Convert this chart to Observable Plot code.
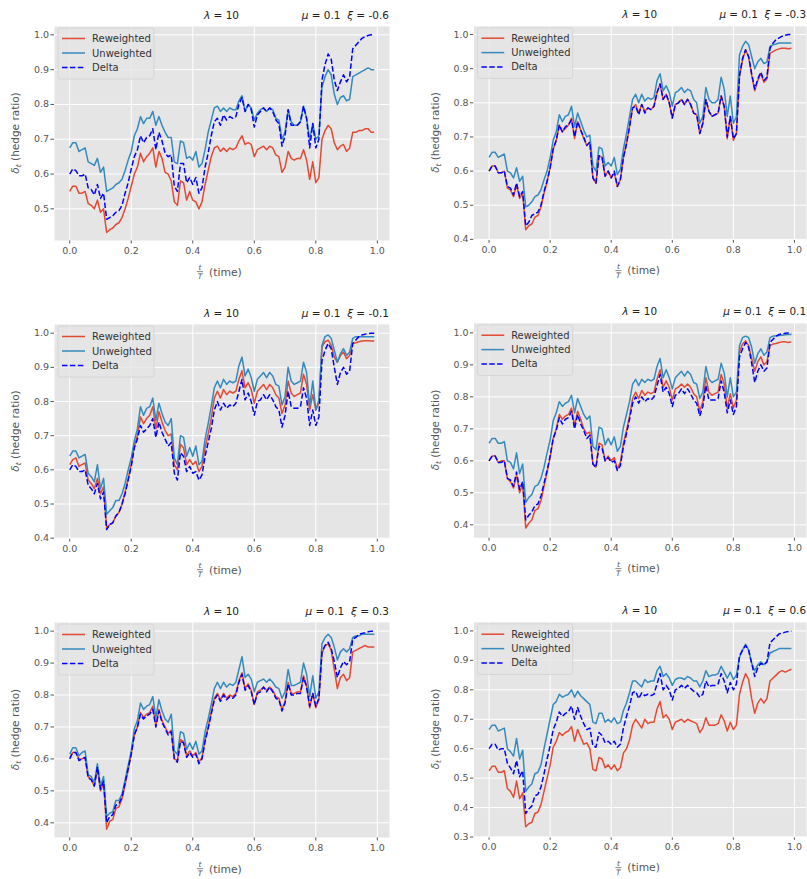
<!DOCTYPE html>
<html><head><meta charset="utf-8">
<script src="https://cdn.jsdelivr.net/npm/d3@7"></script>
<script src="https://cdn.jsdelivr.net/npm/@observablehq/plot@0.6"></script>
<style>
html,body{margin:0;padding:0;background:#fff;}
#fig{position:relative;width:807px;height:879px;overflow:hidden;font-family:"DejaVu Sans",sans-serif;}
#fig > div{position:absolute;}
</style></head><body><div id="fig"></div>
<script>
// ---------- DATA ----------
const times = d3.range(100).map(i => i / 100);
const xTicks = [0, 0.2, 0.4, 0.6, 0.8, 1.0];
const lambdaLabel = "10";
const muLabel = "0.1";
const xiLabels = ["-0.6", "-0.3", "-0.1", "0.1", "0.3", "0.6"];
const seriesNames = ["Reweighted", "Unweighted", "Delta"];

// xi = -0.6
const re_m06 = [
0.550,0.565,0.565,0.545,0.545,0.550,0.515,0.510,0.500,0.525,
0.490,0.500,0.432,0.440,0.445,0.455,0.460,0.475,0.500,0.530,
0.565,0.600,0.620,0.660,0.635,0.650,0.660,0.675,0.620,0.665,
0.645,0.605,0.600,0.580,0.520,0.510,0.580,0.575,0.525,0.550,
0.525,0.520,0.500,0.520,0.570,0.610,0.650,0.675,0.680,0.665,
0.675,0.665,0.675,0.670,0.675,0.695,0.710,0.685,0.690,0.685,
0.650,0.670,0.675,0.680,0.670,0.680,0.675,0.655,0.650,0.605,
0.620,0.665,0.645,0.640,0.645,0.645,0.670,0.640,0.585,0.635,
0.575,0.590,0.700,0.725,0.740,0.730,0.690,0.670,0.680,0.685,
0.665,0.675,0.720,0.720,0.725,0.725,0.730,0.730,0.720,0.720];
const un_m06 = [
0.675,0.690,0.690,0.665,0.670,0.675,0.635,0.630,0.625,0.645,
0.605,0.620,0.550,0.555,0.560,0.570,0.575,0.585,0.610,0.640,
0.665,0.710,0.730,0.765,0.745,0.760,0.760,0.780,0.740,0.765,
0.740,0.720,0.705,0.705,0.635,0.630,0.695,0.690,0.645,0.650,
0.640,0.665,0.620,0.630,0.670,0.720,0.755,0.790,0.795,0.780,
0.790,0.780,0.790,0.785,0.785,0.810,0.825,0.780,0.800,0.790,
0.755,0.775,0.785,0.790,0.780,0.790,0.785,0.760,0.755,0.700,
0.720,0.785,0.750,0.740,0.740,0.750,0.795,0.760,0.700,0.745,
0.700,0.710,0.850,0.880,0.900,0.885,0.830,0.800,0.820,0.825,
0.810,0.815,0.880,0.885,0.890,0.895,0.900,0.905,0.900,0.900];
const de_m06 = [
0.600,0.615,0.610,0.595,0.595,0.600,0.560,0.555,0.540,0.570,
0.530,0.545,0.470,0.475,0.480,0.490,0.495,0.510,0.545,0.575,
0.615,0.650,0.670,0.710,0.690,0.705,0.710,0.730,0.670,0.720,
0.695,0.660,0.650,0.655,0.565,0.550,0.630,0.630,0.575,0.590,
0.570,0.590,0.545,0.560,0.620,0.660,0.710,0.750,0.760,0.740,
0.770,0.755,0.765,0.760,0.765,0.800,0.820,0.780,0.800,0.785,
0.735,0.770,0.780,0.790,0.780,0.790,0.780,0.755,0.745,0.680,
0.710,0.785,0.740,0.740,0.740,0.750,0.795,0.760,0.675,0.745,
0.675,0.700,0.870,0.915,0.945,0.930,0.870,0.840,0.865,0.885,
0.865,0.880,0.960,0.970,0.980,0.990,0.995,0.998,1.000,1.000];

// xi = -0.3
const re_m03 = [
0.600,0.615,0.615,0.595,0.595,0.600,0.550,0.545,0.525,0.560,
0.520,0.535,0.428,0.440,0.445,0.465,0.470,0.495,0.535,0.570,
0.610,0.665,0.690,0.735,0.715,0.725,0.735,0.755,0.695,0.745,
0.720,0.695,0.675,0.685,0.580,0.565,0.645,0.640,0.585,0.600,
0.580,0.595,0.555,0.575,0.640,0.680,0.730,0.785,0.795,0.770,
0.795,0.775,0.785,0.780,0.790,0.830,0.855,0.810,0.825,0.800,
0.755,0.795,0.800,0.810,0.795,0.810,0.795,0.770,0.765,0.710,
0.740,0.810,0.775,0.760,0.765,0.770,0.820,0.790,0.695,0.760,
0.690,0.710,0.875,0.925,0.955,0.935,0.880,0.835,0.865,0.885,
0.860,0.870,0.945,0.950,0.955,0.958,0.960,0.960,0.958,0.960];
const un_m03 = [
0.640,0.655,0.655,0.640,0.645,0.650,0.600,0.595,0.580,0.610,
0.570,0.585,0.495,0.500,0.510,0.525,0.530,0.545,0.575,0.600,
0.640,0.690,0.715,0.765,0.745,0.760,0.765,0.790,0.730,0.770,
0.745,0.720,0.700,0.705,0.615,0.600,0.670,0.665,0.615,0.625,
0.615,0.640,0.590,0.605,0.665,0.710,0.760,0.810,0.825,0.800,
0.825,0.805,0.815,0.810,0.815,0.865,0.885,0.835,0.850,0.830,
0.790,0.830,0.835,0.845,0.830,0.840,0.835,0.810,0.800,0.740,
0.760,0.845,0.810,0.800,0.800,0.810,0.875,0.840,0.760,0.820,
0.740,0.760,0.940,0.965,0.980,0.970,0.935,0.900,0.920,0.930,
0.915,0.920,0.965,0.970,0.972,0.975,0.975,0.975,0.975,0.975];
const de_m03 = [
0.600,0.615,0.615,0.595,0.595,0.600,0.555,0.550,0.530,0.565,
0.525,0.540,0.440,0.450,0.470,0.475,0.480,0.500,0.540,0.570,
0.610,0.665,0.690,0.735,0.715,0.730,0.735,0.750,0.700,0.745,
0.720,0.700,0.675,0.685,0.580,0.565,0.645,0.640,0.585,0.600,
0.580,0.600,0.555,0.575,0.640,0.680,0.730,0.785,0.790,0.765,
0.795,0.770,0.785,0.780,0.790,0.830,0.855,0.810,0.825,0.800,
0.755,0.795,0.800,0.810,0.795,0.810,0.795,0.770,0.765,0.710,
0.740,0.810,0.775,0.760,0.765,0.770,0.820,0.790,0.700,0.760,
0.695,0.710,0.880,0.930,0.955,0.935,0.885,0.840,0.870,0.890,
0.865,0.875,0.960,0.975,0.985,0.990,0.995,0.998,1.000,1.000];

// xi = -0.1
const re_m01 = [
0.615,0.630,0.635,0.610,0.615,0.620,0.570,0.560,0.545,0.575,
0.530,0.550,0.430,0.440,0.445,0.465,0.475,0.500,0.535,0.575,
0.615,0.670,0.700,0.755,0.735,0.750,0.760,0.785,0.720,0.770,
0.740,0.715,0.700,0.705,0.615,0.600,0.675,0.665,0.615,0.630,
0.615,0.625,0.595,0.610,0.665,0.705,0.750,0.810,0.830,0.810,
0.835,0.820,0.830,0.825,0.830,0.865,0.890,0.840,0.855,0.835,
0.795,0.830,0.840,0.850,0.835,0.850,0.840,0.820,0.810,0.765,
0.790,0.860,0.825,0.815,0.820,0.825,0.880,0.850,0.775,0.820,
0.775,0.795,0.960,0.975,0.980,0.965,0.930,0.915,0.935,0.945,
0.925,0.935,0.970,0.972,0.975,0.977,0.978,0.978,0.977,0.977];
const un_m01 = [
0.640,0.655,0.655,0.635,0.640,0.645,0.590,0.580,0.565,0.615,
0.545,0.575,0.470,0.480,0.490,0.510,0.510,0.530,0.560,0.600,
0.635,0.685,0.720,0.785,0.760,0.780,0.785,0.810,0.745,0.795,
0.765,0.740,0.730,0.750,0.635,0.615,0.700,0.695,0.640,0.665,
0.640,0.670,0.615,0.625,0.690,0.735,0.785,0.840,0.860,0.840,
0.865,0.850,0.860,0.855,0.860,0.905,0.930,0.875,0.895,0.870,
0.830,0.865,0.875,0.885,0.870,0.885,0.875,0.850,0.845,0.790,
0.815,0.900,0.860,0.850,0.855,0.860,0.915,0.885,0.785,0.860,
0.775,0.805,0.965,0.990,0.995,0.985,0.950,0.915,0.940,0.955,
0.935,0.945,0.985,0.990,0.990,0.990,0.990,0.990,0.990,0.990];
const de_m01 = [
0.600,0.615,0.610,0.595,0.595,0.600,0.555,0.545,0.530,0.560,
0.515,0.535,0.425,0.440,0.445,0.465,0.475,0.500,0.530,0.570,
0.610,0.665,0.690,0.730,0.710,0.720,0.730,0.750,0.695,0.740,
0.710,0.690,0.670,0.680,0.590,0.570,0.650,0.640,0.595,0.610,
0.590,0.595,0.570,0.585,0.640,0.680,0.720,0.775,0.800,0.775,
0.795,0.780,0.790,0.785,0.795,0.830,0.865,0.805,0.825,0.800,
0.760,0.800,0.805,0.820,0.805,0.820,0.805,0.785,0.775,0.725,
0.760,0.830,0.785,0.780,0.780,0.785,0.840,0.810,0.730,0.775,
0.730,0.755,0.920,0.950,0.970,0.955,0.900,0.850,0.885,0.900,
0.880,0.890,0.970,0.980,0.990,0.995,0.997,0.999,1.000,1.000];

// xi = 0.1
const re_p01 = [
0.600,0.615,0.615,0.595,0.600,0.600,0.545,0.535,0.515,0.555,
0.500,0.530,0.390,0.405,0.415,0.445,0.450,0.475,0.520,0.565,
0.610,0.670,0.700,0.745,0.730,0.740,0.745,0.765,0.710,0.755,
0.730,0.700,0.685,0.690,0.590,0.580,0.655,0.650,0.600,0.615,
0.600,0.610,0.575,0.595,0.655,0.695,0.740,0.795,0.815,0.795,
0.820,0.805,0.815,0.810,0.815,0.855,0.885,0.830,0.850,0.830,
0.790,0.825,0.830,0.840,0.830,0.840,0.830,0.810,0.800,0.755,
0.785,0.860,0.815,0.805,0.810,0.815,0.870,0.840,0.765,0.810,
0.765,0.790,0.940,0.965,0.975,0.960,0.920,0.880,0.910,0.925,
0.900,0.910,0.960,0.965,0.967,0.970,0.972,0.972,0.970,0.972];
const un_p01 = [
0.655,0.670,0.670,0.655,0.655,0.660,0.600,0.595,0.575,0.625,
0.560,0.590,0.470,0.485,0.495,0.520,0.525,0.545,0.580,0.625,
0.665,0.725,0.750,0.785,0.770,0.780,0.785,0.805,0.750,0.795,
0.770,0.745,0.730,0.740,0.645,0.635,0.705,0.700,0.650,0.670,
0.650,0.675,0.630,0.645,0.705,0.745,0.785,0.840,0.855,0.835,
0.855,0.845,0.855,0.850,0.855,0.895,0.920,0.860,0.885,0.860,
0.825,0.860,0.870,0.880,0.865,0.880,0.870,0.845,0.840,0.795,
0.815,0.895,0.855,0.845,0.850,0.855,0.905,0.875,0.800,0.860,
0.800,0.815,0.960,0.985,0.990,0.985,0.955,0.905,0.935,0.950,
0.930,0.940,0.985,0.990,0.990,0.992,0.993,0.994,0.995,0.995];
const de_p01 = [
0.600,0.615,0.615,0.595,0.595,0.600,0.545,0.540,0.520,0.565,
0.510,0.535,0.415,0.430,0.440,0.460,0.465,0.490,0.530,0.570,
0.615,0.670,0.695,0.735,0.715,0.730,0.735,0.755,0.700,0.745,
0.715,0.695,0.670,0.680,0.590,0.580,0.645,0.640,0.600,0.610,
0.595,0.600,0.570,0.585,0.645,0.685,0.730,0.780,0.800,0.780,
0.800,0.785,0.795,0.790,0.800,0.835,0.870,0.815,0.830,0.810,
0.770,0.805,0.810,0.825,0.810,0.825,0.810,0.790,0.780,0.740,
0.770,0.835,0.790,0.790,0.790,0.795,0.850,0.815,0.750,0.790,
0.745,0.770,0.925,0.950,0.970,0.955,0.905,0.845,0.880,0.900,
0.880,0.890,0.970,0.980,0.990,0.995,0.997,0.999,1.000,1.000];

// xi = 0.3
const re_p03 = [
0.605,0.620,0.620,0.600,0.600,0.605,0.545,0.535,0.515,0.570,
0.500,0.525,0.380,0.405,0.410,0.445,0.450,0.475,0.520,0.565,
0.615,0.675,0.700,0.745,0.730,0.740,0.745,0.765,0.705,0.755,
0.720,0.700,0.680,0.690,0.600,0.595,0.660,0.655,0.610,0.625,
0.610,0.620,0.590,0.605,0.660,0.700,0.745,0.790,0.805,0.785,
0.805,0.790,0.800,0.795,0.805,0.845,0.870,0.820,0.835,0.815,
0.770,0.810,0.815,0.825,0.815,0.825,0.815,0.795,0.790,0.755,
0.780,0.840,0.805,0.805,0.810,0.810,0.860,0.830,0.760,0.805,
0.760,0.785,0.930,0.955,0.960,0.940,0.880,0.820,0.855,0.865,
0.845,0.855,0.935,0.940,0.945,0.950,0.955,0.950,0.950,0.950];
const un_p03 = [
0.615,0.635,0.635,0.610,0.620,0.625,0.550,0.545,0.525,0.585,
0.515,0.545,0.420,0.430,0.435,0.470,0.470,0.490,0.535,0.580,
0.625,0.695,0.720,0.775,0.755,0.765,0.770,0.795,0.730,0.785,
0.750,0.725,0.715,0.740,0.625,0.615,0.685,0.680,0.630,0.650,
0.630,0.655,0.615,0.625,0.685,0.725,0.770,0.820,0.840,0.820,
0.840,0.825,0.835,0.830,0.840,0.880,0.920,0.855,0.865,0.850,
0.810,0.840,0.845,0.850,0.840,0.850,0.840,0.825,0.820,0.790,
0.810,0.880,0.830,0.830,0.835,0.840,0.900,0.865,0.795,0.860,
0.790,0.810,0.960,0.980,0.990,0.980,0.950,0.910,0.935,0.945,
0.935,0.945,0.980,0.985,0.985,0.990,0.990,0.990,0.990,0.990];
const de_p03 = [
0.600,0.620,0.620,0.595,0.600,0.605,0.540,0.535,0.515,0.575,
0.505,0.530,0.400,0.420,0.425,0.455,0.460,0.480,0.525,0.570,
0.615,0.675,0.700,0.740,0.725,0.735,0.740,0.755,0.700,0.750,
0.715,0.695,0.675,0.685,0.600,0.590,0.655,0.650,0.605,0.620,
0.605,0.615,0.585,0.600,0.655,0.695,0.740,0.785,0.800,0.780,
0.800,0.785,0.795,0.790,0.800,0.840,0.865,0.815,0.830,0.810,
0.770,0.805,0.810,0.825,0.810,0.825,0.810,0.790,0.785,0.750,
0.775,0.835,0.800,0.800,0.805,0.805,0.855,0.825,0.765,0.805,
0.765,0.790,0.935,0.955,0.965,0.945,0.905,0.855,0.885,0.905,
0.895,0.905,0.975,0.980,0.990,0.993,0.995,0.998,1.000,1.000];

// xi = 0.6
const re_p06 = [
0.525,0.540,0.540,0.520,0.520,0.525,0.465,0.455,0.435,0.490,
0.430,0.450,0.335,0.345,0.350,0.380,0.385,0.410,0.455,0.500,
0.545,0.605,0.625,0.655,0.645,0.655,0.660,0.675,0.625,0.665,
0.640,0.615,0.620,0.600,0.530,0.525,0.570,0.565,0.535,0.545,
0.530,0.545,0.525,0.535,0.585,0.600,0.630,0.680,0.700,0.685,
0.670,0.700,0.685,0.690,0.690,0.735,0.760,0.705,0.715,0.700,
0.665,0.690,0.695,0.700,0.690,0.700,0.695,0.690,0.685,0.655,
0.670,0.705,0.680,0.680,0.680,0.685,0.715,0.695,0.660,0.690,
0.665,0.680,0.785,0.825,0.855,0.835,0.770,0.720,0.755,0.770,
0.755,0.770,0.830,0.840,0.850,0.860,0.865,0.860,0.865,0.870];
const un_p06 = [
0.665,0.680,0.680,0.660,0.665,0.670,0.600,0.590,0.575,0.635,
0.565,0.595,0.455,0.470,0.480,0.515,0.520,0.545,0.600,0.650,
0.700,0.750,0.760,0.785,0.775,0.780,0.785,0.800,0.775,0.795,
0.780,0.770,0.760,0.750,0.690,0.685,0.720,0.720,0.690,0.700,
0.690,0.705,0.685,0.690,0.730,0.755,0.790,0.830,0.830,0.820,
0.810,0.835,0.825,0.830,0.830,0.865,0.880,0.845,0.855,0.840,
0.815,0.835,0.840,0.840,0.835,0.845,0.840,0.830,0.830,0.810,
0.830,0.865,0.845,0.850,0.850,0.855,0.880,0.860,0.840,0.860,
0.835,0.850,0.910,0.935,0.955,0.935,0.890,0.865,0.885,0.895,
0.885,0.895,0.925,0.930,0.935,0.940,0.940,0.940,0.940,0.940];
const de_p06 = [
0.600,0.615,0.615,0.595,0.600,0.600,0.550,0.535,0.515,0.560,
0.505,0.525,0.380,0.395,0.405,0.440,0.445,0.470,0.515,0.565,
0.610,0.665,0.690,0.725,0.710,0.720,0.725,0.745,0.700,0.740,
0.710,0.685,0.665,0.670,0.610,0.605,0.655,0.645,0.620,0.625,
0.615,0.625,0.605,0.615,0.670,0.710,0.745,0.790,0.795,0.770,
0.790,0.780,0.785,0.780,0.785,0.820,0.855,0.800,0.815,0.800,
0.765,0.800,0.805,0.815,0.805,0.815,0.805,0.795,0.790,0.775,
0.785,0.830,0.810,0.815,0.815,0.820,0.855,0.830,0.790,0.825,
0.800,0.820,0.915,0.935,0.950,0.935,0.890,0.845,0.875,0.890,
0.885,0.895,0.960,0.970,0.980,0.990,0.993,0.996,0.998,1.000];

const yTicksA = [0.5, 0.6, 0.7, 0.8, 0.9, 1.0];
const yTicksB = [0.4, 0.5, 0.6, 0.7, 0.8, 0.9, 1.0];
const yTicksC = [0.3, 0.4, 0.5, 0.6, 0.7, 0.8, 0.9, 1.0];

// ---------- LAYOUT / STYLE ----------
const colors = {Reweighted: "#E24A33", Unweighted: "#348ABD", Delta: "#0000FF"};
const dashes = {Reweighted: null, Unweighted: null, Delta: "5.5,2.4"};
const xDomain = [-0.0495, 1.0395];

const panels = [
  {xi: xiLabels[0], s: [re_m06, un_m06, de_m06], yDomain: [0.409, 1.024], yTicks: yTicksA, left: 0,   top: 0,   width: 400, height: 290, ml: 54, mr: 11, mt: 26, mb: 50},
  {xi: xiLabels[1], s: [re_m03, un_m03, de_m03], yDomain: [0.399, 1.024], yTicks: yTicksB, left: 400, top: 0,   width: 410, height: 290, ml: 74, mr: 1,  mt: 26, mb: 49},
  {xi: xiLabels[2], s: [re_m01, un_m01, de_m01], yDomain: [0.399, 1.0255], yTicks: yTicksB, left: 0,  top: 298, width: 400, height: 290, ml: 54, mr: 11, mt: 26, mb: 50},
  {xi: xiLabels[3], s: [re_p01, un_p01, de_p01], yDomain: [0.3596, 1.030], yTicks: yTicksB, left: 400, top: 297, width: 410, height: 292, ml: 74, mr: 1,  mt: 26, mb: 50},
  {xi: xiLabels[4], s: [re_p03, un_p03, de_p03], yDomain: [0.354, 1.027], yTicks: yTicksB, left: 0,   top: 596, width: 400, height: 290, ml: 54, mr: 11, mt: 26, mb: 49},
  {xi: xiLabels[5], s: [re_p06, un_p06, de_p06], yDomain: [0.301, 1.0293], yTicks: yTicksC, left: 400, top: 596, width: 410, height: 290, ml: 74, mr: 1,  mt: 26, mb: 48}
];

const fig = document.getElementById("fig");
const fmt = d3.format(".1f");

panels.forEach(p => {
  const lineMarks = seriesNames.map((name, k) => {
    const rows = times.map((t, i) => ({t, v: p.s[k][i]}));
    return Plot.line(rows, {
      x: "t", y: "v", stroke: colors[name], strokeWidth: 1.5,
      strokeDasharray: dashes[name] || undefined, strokeLinejoin: "round", strokeLinecap: "butt"
    });
  });
  const plot = Plot.plot({
    width: p.width, height: p.height,
    marginLeft: p.ml, marginRight: p.mr, marginTop: p.mt, marginBottom: p.mb,
    style: {background: "transparent", color: "#555555", fontFamily: "DejaVu Sans, sans-serif", fontSize: "9.5px", overflow: "visible"},
    x: {domain: xDomain, ticks: xTicks, tickFormat: fmt, tickSize: 3.5, tickPadding: 3, label: null},
    y: {domain: p.yDomain, ticks: p.yTicks, tickFormat: fmt, tickSize: 3.5, tickPadding: 2, label: null},
    marks: [
      Plot.frame({fill: "#E5E5E5", stroke: "none"}),
      Plot.ruleX(xTicks, {stroke: "white", strokeWidth: 1}),
      Plot.ruleY(p.yTicks, {stroke: "white", strokeWidth: 1}),
      ...lineMarks
    ]
  });

  const svg = d3.select(plot);
  const W = p.width, H = p.height;
  const fl = p.ml, fr = W - p.mr, ft = p.mt, fb = H - p.mb;
  const cx = (fl + fr) / 2, cy = (ft + fb) / 2;

  // titles
  const t1 = svg.append("text").attr("x", cx).attr("y", ft - 7.5)
    .attr("text-anchor", "middle").attr("fill", "#222").attr("font-size", 10.5)
    .style("white-space", "pre");
  t1.append("tspan").attr("font-style", "italic").text("λ");
  t1.append("tspan").text(" = " + lambdaLabel);

  const t2 = svg.append("text").attr("x", fr).attr("y", ft - 7.5)
    .attr("text-anchor", "end").attr("fill", "#222").attr("font-size", 10.5)
    .style("white-space", "pre");
  t2.append("tspan").attr("font-style", "italic").text("μ");
  t2.append("tspan").text(" = " + muLabel + "  ");
  t2.append("tspan").attr("font-style", "italic").text("ξ");
  t2.append("tspan").text(" = " + p.xi);

  // y label
  const yl = svg.append("text")
    .attr("transform", `translate(${fl - 35},${cy}) rotate(-90)`)
    .attr("text-anchor", "middle").attr("fill", "#555").attr("font-size", 10.5)
    .style("white-space", "pre");
  yl.append("tspan").attr("font-style", "italic").text("δ");
  yl.append("tspan").attr("font-style", "italic").attr("font-size", 7.5).attr("dy", 2).text("t");
  yl.append("tspan").attr("dy", -2).text(" (hedge ratio)");

  // x label: t/T (time)
  const by = fb + 35.5;
  const fx = cx - 21.5;
  svg.append("text").attr("x", fx).attr("y", by - 5.4).attr("text-anchor", "middle")
    .attr("font-size", 7.5).attr("font-style", "italic").attr("fill", "#555").text("t");
  svg.append("line").attr("x1", fx - 3).attr("x2", fx + 3).attr("y1", by - 3.9).attr("y2", by - 3.9)
    .attr("stroke", "#555").attr("stroke-width", 0.7);
  svg.append("text").attr("x", fx).attr("y", by + 3.6).attr("text-anchor", "middle")
    .attr("font-size", 7.5).attr("font-style", "italic").attr("fill", "#555").text("T");
  svg.append("text").attr("x", cx - 12.5).attr("y", by).attr("text-anchor", "start")
    .attr("font-size", 10.8).attr("fill", "#555").text("(time)");

  // legend
  const lg = svg.append("g").attr("transform", `translate(${fl},${ft})`);
  lg.append("rect").attr("x", 4).attr("y", 2).attr("width", 96).attr("height", 51).attr("rx", 2.5)
    .attr("fill", "#E5E5E5").attr("fill-opacity", 0.8).attr("stroke", "#d6d6d6");
  seriesNames.forEach((name, k) => {
    const yy = 12.5 + k * 14.5;
    lg.append("line").attr("x1", 8).attr("x2", 31).attr("y1", yy).attr("y2", yy)
      .attr("stroke", colors[name]).attr("stroke-width", 1.5)
      .attr("stroke-dasharray", dashes[name]);
    lg.append("text").attr("x", 38).attr("y", yy).attr("dy", "0.35em").attr("text-anchor", "start")
      .attr("font-size", 10).attr("fill", "#333").text(name);
  });

  const holder = document.createElement("div");
  holder.style.left = p.left + "px";
  holder.style.top = p.top + "px";
  holder.appendChild(plot);
  fig.appendChild(holder);
});
</script>
</body></html>
